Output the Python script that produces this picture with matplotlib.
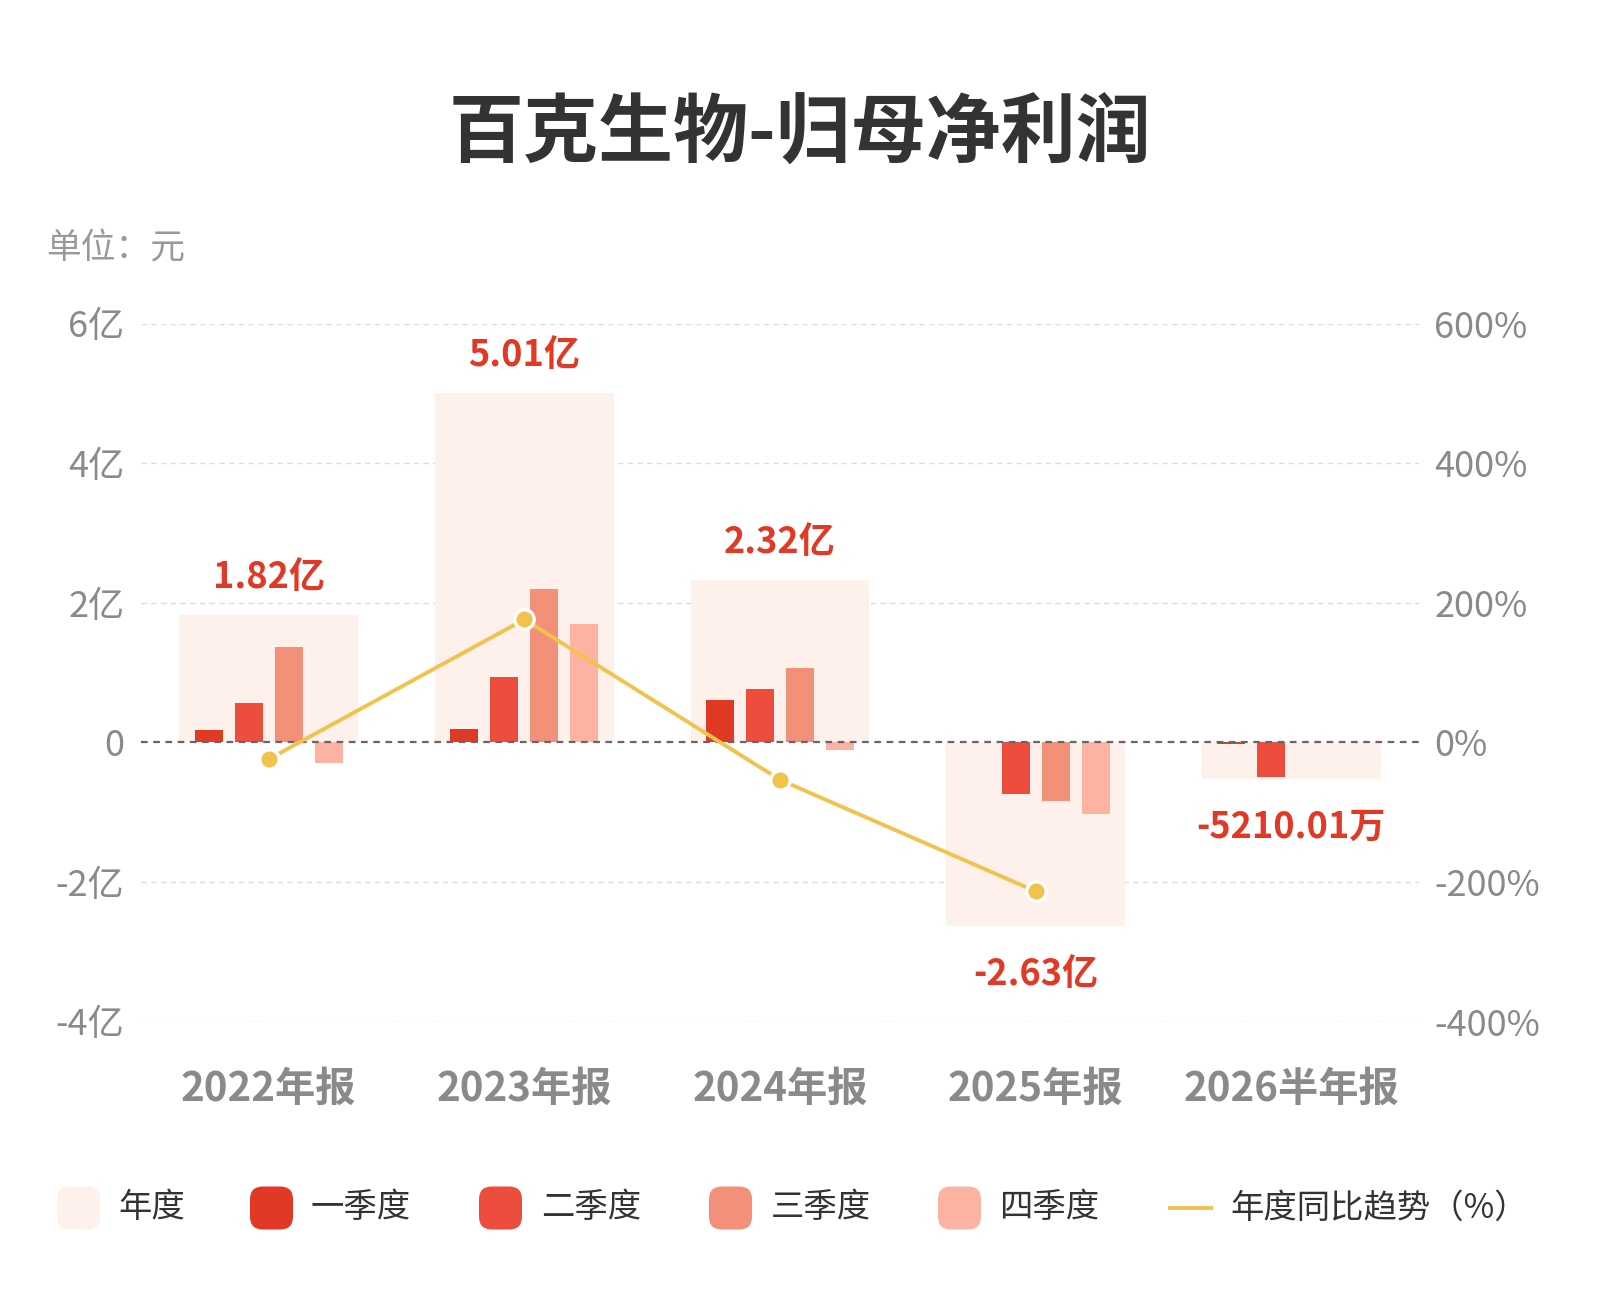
import numpy as np
import matplotlib
matplotlib.use("Agg")
import matplotlib.pyplot as plt
from matplotlib.patches import FancyBboxPatch
from matplotlib.lines import Line2D

plt.rcParams['font.family'] = ['Noto Sans CJK SC', 'DejaVu Sans']

# ---- data ----
categories = ['2022年报', '2023年报', '2024年报', '2025年报', '2026半年报']
annual = [1.82, 5.01, 2.32, -2.63, -0.521]            # 亿元
annual_labels = ['1.82亿', '5.01亿', '2.32亿', '-2.63亿', '-5210.01万']
q1 = [0.17, 0.19, 0.60, 0.01, -0.03]
q2 = [0.56, 0.93, 0.77, -0.735, -0.49]
q3 = [1.37, 2.19, 1.07, -0.834, np.nan]
q4 = [-0.30, 1.69, -0.11, -1.03, np.nan]
yoy = [-24.0, 176.0, -53.7, -213.4, np.nan]            # %
left_ticks = [-4, -2, 0, 2, 4, 6]
left_ticklabels = ['-4亿', '-2亿', '0', '2亿', '4亿', '6亿']
right_ticks = [-400, -200, 0, 200, 400, 600]
right_ticklabels = ['-400%', '-200%', '0%', '200%', '400%', '600%']
legend_labels = ['年度', '一季度', '二季度', '三季度', '四季度', '年度同比趋势（%）']

# ---- style ----
c_annual = '#FEF0EB'
c_q = ['#E03A26', '#EC4D3C', '#F3907A', '#FCB3A2']
c_line = '#F2C24E'
c_label = '#E03A26'
c_tick = '#8A8A8A'

W, H = 1600, 1300
fig = plt.figure(figsize=(W / 100, H / 100), dpi=100)
fig.patch.set_facecolor('white')

ax_l, ax_r, ax_t, ax_b = 141, 1419, 323.5, 1021.5
ax = fig.add_axes([ax_l / W, 1 - ax_b / H, (ax_r - ax_l) / W, (ax_b - ax_t) / H])
ax.set_xlim(-0.5, len(categories) - 0.5)
ax.set_ylim(-4, 6)

x = np.arange(len(categories))
ax.bar(x, annual, width=0.70, color=c_annual, zorder=1)
qs = [q1, q2, q3, q4]
step = 0.1566
for i, (qv, col) in enumerate(zip(qs, c_q)):
    ax.bar(x + (i - 1.5) * step, qv, width=0.11, color=col, zorder=2)

# grid
for t in left_ticks:
    if t == 0:
        ax.axhline(0, color='#666666', lw=1.6, ls=(0, (3, 2.5)), zorder=3)
    else:
        ax.axhline(t, color='#DDDDDD', lw=1.0, ls=(0, (4, 3)), zorder=0)

ax.set_yticks(left_ticks)
ax.set_yticklabels(left_ticklabels)
ax.tick_params(axis='y', length=0, pad=12, labelsize=26, labelcolor=c_tick)
ax.set_xticks(x)
ax.set_xticklabels(categories, fontsize=29, fontweight='bold', color=c_tick)
ax.tick_params(axis='x', length=0, pad=34)
for s in ax.spines.values():
    s.set_visible(False)

# value labels
for xi, v, lab in zip(x, annual, annual_labels):
    off = 27 if v >= 0 else -35
    ax.annotate(lab, (xi, v), xytext=(0, off), textcoords='offset points',
                ha='center', va='center', fontsize=26, fontweight='bold',
                color=c_label, zorder=5)

# yoy line
ax2 = ax.twinx()
ax2.set_ylim(-400, 600)
ax2.plot(x, yoy, color=c_line, lw=2.8, marker='o', markersize=14,
         markerfacecolor=c_line, markeredgecolor='white', markeredgewidth=2.4,
         zorder=4)
ax2.set_yticks(right_ticks)
ax2.set_yticklabels(right_ticklabels)
ax2.tick_params(axis='y', length=0, pad=11, labelsize=26, labelcolor=c_tick)
for s in ax2.spines.values():
    s.set_visible(False)

# title & unit
fig.text(0.5, 1 - 134 / H, '百克生物-归母净利润', ha='center', va='center',
         fontsize=54, fontweight='bold', color='#333333')
fig.text(46 / W, 1 - 249 / H, '单位：元', ha='left', va='center',
         fontsize=25, color='#999999')

# legend (manual)
ly = 1208
patch_x = [57, 250, 479, 709, 938]
text_x = [118, 311, 541, 771, 999, 1230]
cols = [c_annual] + c_q
ps = 43
for px, col in zip(patch_x, cols):
    p = FancyBboxPatch((px / W, (H - ly - ps / 2) / H), ps / W, ps / H,
                       boxstyle='round,pad=0,rounding_size=0.008',
                       transform=fig.transFigure, facecolor=col,
                       edgecolor='none', mutation_aspect=W / H)
    fig.patches.append(p)
fig.lines.append(Line2D([1170 / W, 1211 / W], [1 - ly / H, 1 - ly / H],
                        transform=fig.transFigure, color=c_line, lw=2.8))
for tx, lab in zip(text_x, legend_labels):
    fig.text(tx / W, 1 - ly / H, lab, ha='left', va='center',
             fontsize=24, color='#333333')

fig.savefig('out.png', dpi=100, facecolor='white')
